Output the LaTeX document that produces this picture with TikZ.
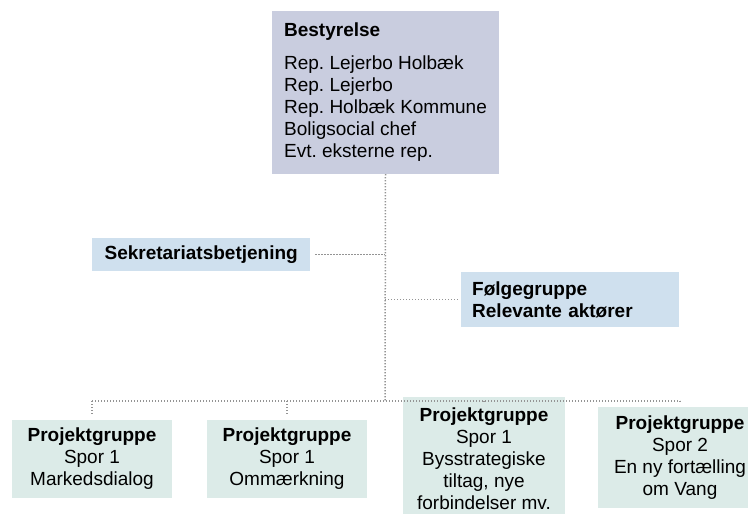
\documentclass[tikz,border=0pt]{standalone}
\usepackage{fontspec}
\setmainfont{Liberation Sans}
\usetikzlibrary{positioning}
\frenchspacing

\definecolor{boardfill}{HTML}{C9CDDF}
\definecolor{sidefill}{HTML}{CFE0EE}
\definecolor{groupfill}{HTML}{DCEBE8}
\definecolor{dotgray}{HTML}{949494}

\tikzset{
  orgbox/.style={inner sep=0pt, font=\fontsize{19}{22}\selectfont},
  boardbox/.style={orgbox, fill=boardfill, minimum width=227, minimum height=163,
    align=left},
  sidebox/.style={orgbox, fill=sidefill, inner xsep=10pt, align=left},
  groupbox/.style={orgbox, fill=groupfill, minimum width=160, align=center},
  link/.style={draw=dotgray, line width=1.5pt, dash pattern=on 1.2pt off 1.8pt}
}

\begin{document}
\begin{tikzpicture}[x=1pt, y=-1pt]
      \useasboundingbox (0,0) rectangle (748,514);
      \clip (0,0) rectangle (748,514);

      %%%%  Bestyrelse
      \node[boardbox] (board) at (385.5,92.5)
        {\textbf{Bestyrelse}\\[11pt]
         Rep. Lejerbo Holbæk\\
         Rep. Lejerbo\\
         Rep. Holbæk Kommune\\
         Boligsocial chef\\
         Evt. eksterne rep.};

      %%%%  side boxes
      \node[sidebox, anchor=north west, minimum width=218, minimum height=33]
        (sekr) at (92,238) {\textbf{Sekretariatsbetjening}};
      \node[sidebox, anchor=north west, text width=196, inner xsep=11pt, minimum height=55]
        (foelge) at (461,272) {\textbf{Følgegruppe}\\ \textbf{Relevante aktører}};

      %%%%  project groups
      \node[groupbox, minimum height=78] (grpA) at (92,459)
        {\textbf{Projektgruppe}\\ Spor 1\\ Markedsdialog};
      \node[groupbox, minimum height=78] (grpB) at (287,459)
        {\textbf{Projektgruppe}\\ Spor 1\\ Ommærkning};
      \node[groupbox, minimum width=162, minimum height=124] (grpC) at (484,459)
        {\textbf{Projektgruppe}\\ Spor 1\\ Bysstrategiske\\ tiltag, nye\\ forbindelser mv.};
      \node[groupbox, minimum width=164, minimum height=101] (grpD) at (680,457.5)
        {\textbf{Projektgruppe}\\ Spor 2\\ En ny fortælling\\ om Vang};

      \coordinate (hub) at (385,401);

      % dotted connectors
      \draw[link] (board.south) -- (hub);
      \draw[link, shorten <=5pt] (sekr.east) -- (sekr.east -| hub);
      \draw[link, shorten >=3pt] (hub |- foelge.west) -- (foelge.west);
      \draw[link] (grpA.north |- hub) -- (grpD.north |- hub);
      \foreach \g in {grpA,grpB,grpC,grpD}
       {\draw[link, shorten >=4pt] (\g.north |- hub) -- (\g.north);}
    \end{tikzpicture}
\end{document}
